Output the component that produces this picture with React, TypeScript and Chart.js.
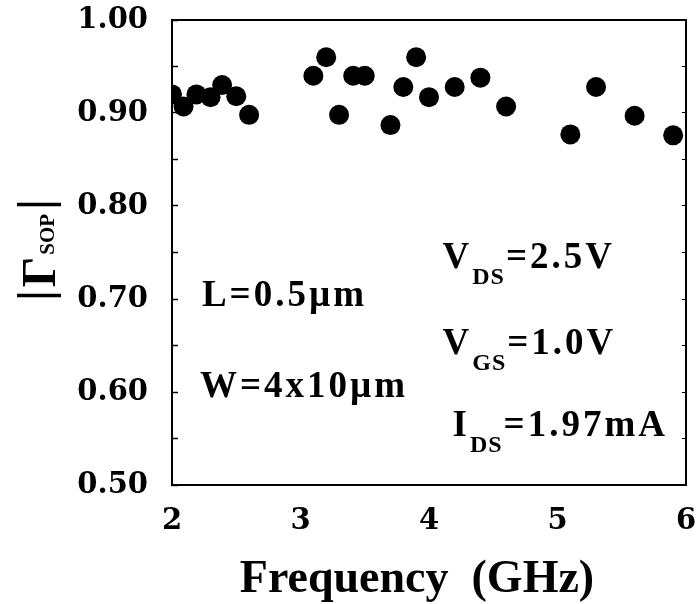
import { useEffect, useRef } from "react";
import { Chart, registerables } from "chart.js";

Chart.register(...registerables);

// Measured optimum source reflection magnitude vs. frequency
const frequencyGHz = [2.0, 2.09, 2.19, 2.3, 2.39, 2.5, 2.6, 3.1, 3.2, 3.3, 3.41, 3.5, 3.7, 3.8, 3.9, 4.0, 4.2, 4.4, 4.6, 5.1, 5.3, 5.6, 5.9];
const gammaSop = [0.92, 0.907, 0.92, 0.917, 0.93, 0.918, 0.898, 0.94, 0.96, 0.898, 0.94, 0.94, 0.887, 0.928, 0.96, 0.917, 0.928, 0.938, 0.907, 0.877, 0.928, 0.897, 0.876];

const xTickValues = [2, 3, 4, 5, 6];
const yTickValues = [0.5, 0.55, 0.6, 0.65, 0.7, 0.75, 0.8, 0.85, 0.9, 0.95, 1.0];
const yTickLabels = ["0.50", "", "0.60", "", "0.70", "", "0.80", "", "0.90", "", "1.00"];

const xTitle = "Frequency  (GHz)";

// Device conditions printed inside the plot, anchored in data space (GHz, |Γ|)
const notes = [
  { main: "L=0.5µm", sub: "", rest: "", f: 2.233, g: 0.6925 },
  { main: "W=4x10µm", sub: "", rest: "", f: 2.217, g: 0.5946 },
  { main: "V", sub: "DS", rest: "=2.5V", f: 4.105, g: 0.7333 },
  { main: "V", sub: "GS", rest: "=1.0V", f: 4.105, g: 0.6409 },
  { main: "I", sub: "DS", rest: "=1.97mA", f: 4.183, g: 0.5527 },
];

const SERIF = '"Liberation Serif", "Times New Roman", serif';
const TICK_FONT = { family: '"DejaVu Serif", serif', size: 29, weight: "bold" as const };

function setSpacing(ctx: CanvasRenderingContext2D, px: number) {
  (ctx as any).letterSpacing = `${px}px`;
}

// scales keep their label overflow out of the layout; the outer padding decides the plot box
function fixBox(w?: number, h?: number) {
  return (s: any) => {
    if (w !== undefined) s.width = w;
    if (h !== undefined) s.height = h;
    s.paddingTop = 0;
    s.paddingBottom = 0;
    s.paddingLeft = 0;
    s.paddingRight = 0;
  };
}

const paperText = {
  id: "paperText",
  afterDraw(chart: any) {
    const { ctx, chartArea, scales } = chart;
    const xs = scales.x;
    const ys = scales.y;
    ctx.save();
    ctx.fillStyle = "#000";
    ctx.textBaseline = "alphabetic";

    // horizontal axis title
    ctx.font = `bold 46px ${SERIF}`;
    ctx.textAlign = "center";
    setSpacing(ctx, 0);
    ctx.fillText(xTitle, chartArea.left + 245, 592);

    // annotations with subscripts
    ctx.textAlign = "left";
    for (const n of notes) {
      let px = xs.getPixelForValue(n.f);
      const py = ys.getPixelForValue(n.g);
      ctx.font = `bold 37px ${SERIF}`;
      setSpacing(ctx, 3);
      ctx.fillText(n.main, px, py);
      px += ctx.measureText(n.main).width;
      if (n.sub) {
        ctx.font = `bold 24px ${SERIF}`;
        setSpacing(ctx, 1);
        ctx.fillText(n.sub, px, py + 16);
        px += ctx.measureText(n.sub).width + 1;
        ctx.font = `bold 37px ${SERIF}`;
        setSpacing(ctx, 3);
        ctx.fillText(n.rest, px, py);
      }
    }

    // vertical axis title |Γ_SOP|
    setSpacing(ctx, 0);
    ctx.translate(55, chartArea.top + 230);
    ctx.rotate(-Math.PI / 2);
    const big = `bold 48px ${SERIF}`;
    const small = `bold 21px ${SERIF}`;
    ctx.font = big;
    const wBar = ctx.measureText("|").width;
    const wG = ctx.measureText("Γ").width;
    ctx.font = small;
    const wSub = ctx.measureText("SOP").width;
    const total = wBar + 3 + wG + 2 + wSub + 4 + wBar;
    let cx = -total / 2;
    ctx.font = big;
    ctx.fillText("|", cx, -4);
    cx += wBar + 3;
    ctx.fillText("Γ", cx, 0);
    cx += wG + 2;
    ctx.font = small;
    ctx.fillText("SOP", cx, -1);
    cx += wSub + 4;
    ctx.font = big;
    ctx.fillText("|", cx, -4);
    ctx.restore();
  },
};

export default function App() {
  const canvasRef = useRef<HTMLCanvasElement | null>(null);

  useEffect(() => {
    const canvas = canvasRef.current;
    if (!canvas) return;
    const chart = new Chart(canvas, {
      type: "scatter",
      data: {
        datasets: [
          {
            data: frequencyGHz.map((f, i) => ({ x: f, y: gammaSop[i] })),
            backgroundColor: "#000",
            borderColor: "#000",
            borderWidth: 0,
            pointRadius: 10,
            pointHoverRadius: 10,
          },
        ],
      },
      options: {
        animation: false,
        responsive: false,
        events: [],
        layout: { padding: { top: 20, right: 8, left: 0, bottom: 0 } },
        plugins: { legend: { display: false }, tooltip: { enabled: false } },
        scales: {
          x: {
            type: "linear",
            position: "bottom",
            min: 2,
            max: 6,
            afterBuildTicks: (s: any) => {
              s.ticks = xTickValues.map((v) => ({ value: v }));
            },
            afterFit: fixBox(undefined, 119),
            ticks: {
              autoSkip: false,
              maxRotation: 0,
              padding: 19,
              color: "#000",
              font: TICK_FONT,
              callback: (v: any) => String(v),
            },
            grid: { drawOnChartArea: false, drawTicks: false },
            border: { display: true, color: "#000", width: 2 },
          },
          x2: {
            type: "linear",
            position: "top",
            min: 2,
            max: 6,
            afterFit: fixBox(undefined, 0),
            ticks: { display: false },
            grid: { drawOnChartArea: false, drawTicks: false },
            border: { display: true, color: "#000", width: 2 },
          },
          y: {
            type: "linear",
            position: "left",
            min: 0.5,
            max: 1.0,
            afterBuildTicks: (s: any) => {
              s.ticks = yTickValues.map((v) => ({ value: v }));
            },
            afterFit: fixBox(172, undefined),
            ticks: {
              autoSkip: false,
              padding: 30,
              color: "#000",
              font: TICK_FONT,
              callback: (_v: any, i: number) => yTickLabels[i],
            },
            grid: { drawOnChartArea: false, drawTicks: true, tickLength: -6, color: "#000", tickWidth: 1.5 },
            border: { display: true, color: "#000", width: 2 },
          },
          y2: {
            type: "linear",
            position: "right",
            min: 0.5,
            max: 1.0,
            afterBuildTicks: (s: any) => {
              s.ticks = yTickValues.map((v) => ({ value: v }));
            },
            afterFit: fixBox(0, undefined),
            ticks: { display: false },
            grid: { drawOnChartArea: false, drawTicks: true, tickLength: -4, color: "#000", tickWidth: 1 },
            border: { display: true, color: "#000", width: 2 },
          },
        },
      },
      plugins: [paperText],
    });
    return () => chart.destroy();
  }, []);

  return (
    <div style={{ position: "absolute", left: 0, top: 0, width: 696, height: 604, background: "#fff" }}>
      <canvas ref={canvasRef} width={696} height={604} style={{ display: "block" }} />
    </div>
  );
}
